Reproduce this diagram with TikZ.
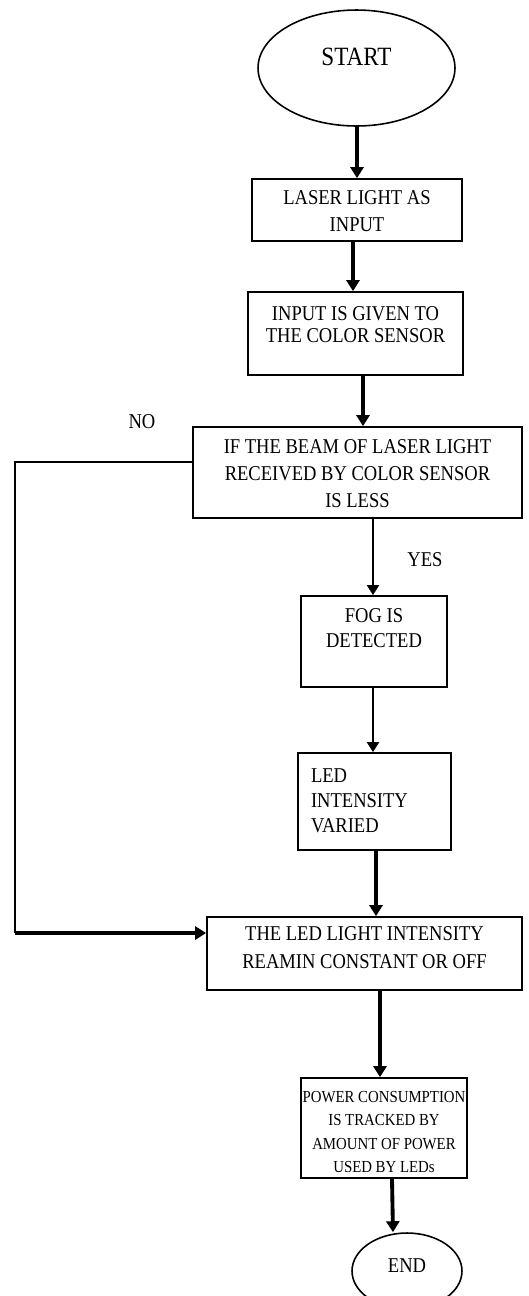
\documentclass[tikz,border=0pt]{standalone}
\usepackage{fontspec}
\setmainfont{Liberation Serif}[FakeStretch=0.88]
\usetikzlibrary{shapes.geometric,arrows.meta}
\newcommand{\bxtext}[6]{\parbox[c][#2][t]{#1}{#5\baselineskip=#4\vspace*{#3}#6\par}}
\begin{document}
\begin{tikzpicture}[x=0.02cm,y=-0.02cm,
  box/.style={draw,line width=1pt,inner sep=0pt,font=\fontsize{12}{14}\selectfont},
  oval/.style={draw,ellipse,line width=0.9pt,inner sep=0pt,font=\fontsize{12}{14}\selectfont},
  thick arrow/.style={line width=2.2pt,-{Triangle[length=0.22cm,width=0.26cm]}},
  thin arrow/.style={line width=1.1pt,-{Triangle[length=0.2cm,width=0.24cm]}},
  thin line/.style={line width=1.1pt},
  lbl/.style={font=\fontsize{12}{14}\selectfont,anchor=base,inner sep=0pt}]
\useasboundingbox (0,0) rectangle (528,1296);
\clip (0,0) rectangle (528,1296);
\fill[white] (0,0) rectangle (528,1296);

\node[oval,minimum width=3.94cm,minimum height=2.32cm,
  label={[lbl,font=\fontsize{15}{17}\selectfont,yshift=0.22cm]center:START}] (start) at (356.5,68) {};

\node[box] (b1) at (357,210) {\bxtext{4.2cm}{1.24cm}{6.3pt}{15.4pt}{\centering}{LASER LIGHT AS\\INPUT}};
\node[box] (b2) at (355.5,333.5) {\bxtext{4.3cm}{1.66cm}{8pt}{12.8pt}{\centering}{INPUT IS GIVEN TO\\THE COLOR SENSOR}};
\node[box] (b3) at (357.5,472.5) {\bxtext{6.58cm}{1.82cm}{6.9pt}{15.4pt}{\centering}{IF THE BEAM OF LASER LIGHT\\RECEIVED BY COLOR SENSOR\\IS LESS}};
\node[box] (b4) at (374,641.5) {\bxtext{2.92cm}{1.82cm}{6.9pt}{14.2pt}{\centering}{FOG IS\\DETECTED}};
\node[box] (b5) at (374.5,801.5) {\bxtext{3.06cm}{1.94cm}{9.2pt}{14.2pt}{\raggedright\leftskip=0.26cm}{LED\\INTENSITY\\VARIED}};
\node[box] (b6) at (364.5,953.5) {\bxtext{6.3cm}{1.46cm}{5.2pt}{15.9pt}{\centering}{THE LED LIGHT INTENSITY\\REAMIN CONSTANT OR OFF}};
\node[box,font=\fontsize{9.6}{12}\selectfont] (b7) at (384,1128) {\bxtext{3.32cm}{2cm}{7.4pt}{13.4pt}{\centering}{POWER CONSUMPTION\\IS TRACKED BY\\AMOUNT OF POWER\\USED BY LEDs}};

\node[oval,minimum width=2.2cm,minimum height=1.52cm,
  label={[lbl,yshift=0.1cm]center:END}] (end) at (407,1271) {};

\node[lbl] (no) at (142,428) {NO};
\node[lbl] (yes) at (425,566) {YES};

\coordinate (n1) at (15,462);
\coordinate (n2) at (15,933);

\draw[thick arrow] (start.south -| 357,0) -- (b1.north -| 357,0);
\draw[thick arrow] (b1.south -| 353,0) -- (b2.north -| 353,0);
\draw[thick arrow] (b2.south -| 363,0) -- (b3.north -| 363,0);
\draw[thin arrow] (b3.south -| 373,0) -- (b4.north -| 373,0);
\draw[thin arrow] (b4.south -| 373,0) -- (b5.north -| 373,0);
\draw[thick arrow] (b5.south -| 376,0) -- (b6.north -| 376,0);
\draw[thick arrow] (b6.south -| 380,0) -- (b7.north -| 380,0);
\draw[thick arrow] (b7.south -| 392,0) -- (end.north -| 393,0);
\draw[thin line] (b3.west |- n1) -- (n1) -- (n2);
\draw[thick arrow] (n2) -- (b6.west |- n2);
\end{tikzpicture}
\end{document}
